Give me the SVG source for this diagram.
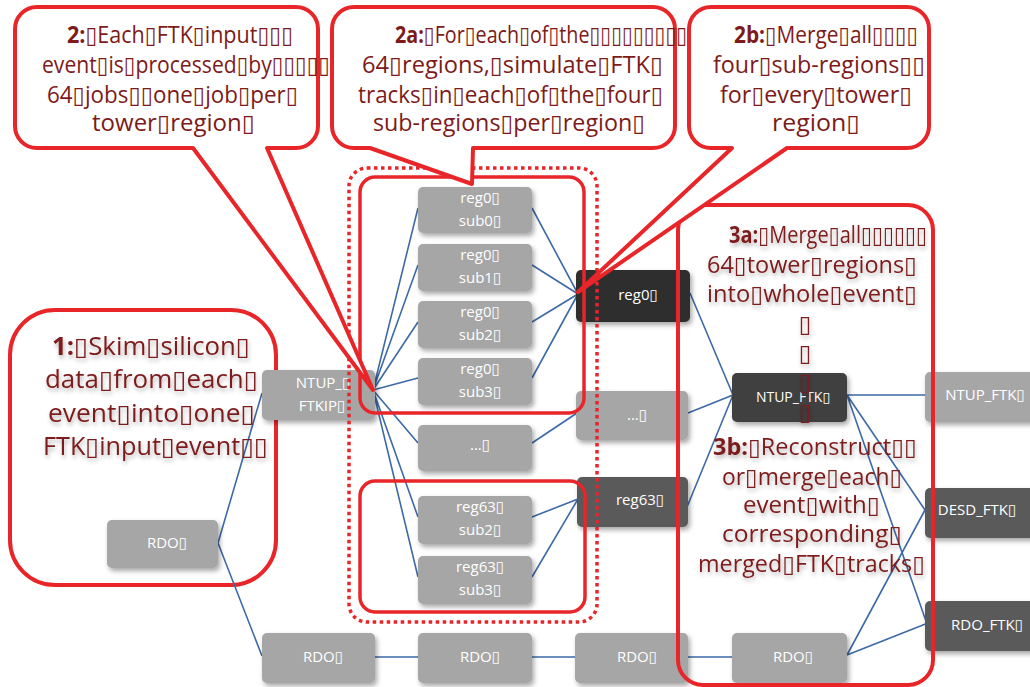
<svg xmlns="http://www.w3.org/2000/svg" width="1030" height="687" viewBox="0 0 1030 687">
<defs>
<filter id="sh" x="-20%" y="-20%" width="140%" height="150%"><feDropShadow dx="2" dy="3" stdDeviation="2.5" flood-color="#000" flood-opacity="0.35"/></filter>
<filter id="tsh" x="-10%" y="-30%" width="120%" height="170%"><feDropShadow dx="1" dy="3" stdDeviation="2" flood-color="#000" flood-opacity="0.3"/></filter>
<style>
.bub{fill:#fff;stroke:#e8262a;stroke-width:4;stroke-linejoin:round}
.frame{fill:none;stroke:#e8262a;stroke-width:3.5}
.dot{fill:none;stroke:#e8262a;stroke-width:3.5;stroke-dasharray:3.5 3.5}
.c{fill:none;stroke:#3d6aa6;stroke-width:1.6}
.t{font-family:"Open Sans","DejaVu Sans",sans-serif;fill:#7d1a1a;font-size:23px}
.tb{font-size:25px}
.b{font-weight:bold}
.n rect{filter:url(#sh)}
.n text{font-family:"Open Sans","DejaVu Sans",sans-serif;fill:#fff;font-size:15px;text-anchor:middle}
.g{fill:#a6a6a6}
.dk{fill:#2e2e2e}
.md{fill:#5a5a5a}
.mk{fill:#404040}
</style>
</defs>
<rect width="1030" height="687" fill="#fff"/>

<!-- step 1 frame -->
<rect class="bub" x="10" y="310" width="266" height="275" rx="45"/>

<g id="connectors">
<path class="c" d="M373,390 L418,208 M373,390 L418,265 M373,390 L418,322 M373,390 L418,378 M373,390 L418,443 M373,390 L418,517 M373,390 L418,577"/>
<path class="c" d="M532,208 L578,294 M532,265 L578,294 M532,322 L578,294 M532,378 L578,294"/>
<path class="c" d="M532,443 L577,413 M532,517 L578,499 M532,577 L578,499"/>
<path class="c" d="M262,393 L218,543 L262,656"/>
<path class="c" d="M375,657 H418 M532,657 H575 M688,657 H732"/>
<path class="c" d="M690,293 L733,395 M688,413 L733,395 M687,507 L733,395"/>
<path class="c" d="M847,395 H925 M847,395 L925,510 M847,395 L927,624 M847,655 L925,510 M847,655 L928,623"/>
</g>

<g id="rdo-a" class="n"><rect class="g" x="107" y="520" width="111" height="48" rx="5"/><text x="167" y="548">RDO▯</text></g>
<g id="ntup-ftkip" class="n"><rect class="g" x="262" y="370" width="113" height="50" rx="5"/><text x="323" y="388">NTUP_▯</text><text x="322" y="411">FTKIP▯</text></g>
<g id="reg0-sub0" class="n"><rect class="g" x="418" y="187" width="114" height="46" rx="5"/><text x="480" y="203">reg0▯</text><text x="480" y="226">sub0▯</text></g>
<g id="reg0-sub1" class="n"><rect class="g" x="418" y="244" width="114" height="47" rx="5"/><text x="480" y="260">reg0▯</text><text x="480" y="283">sub1▯</text></g>
<g id="reg0-sub2" class="n"><rect class="g" x="418" y="301" width="114" height="47" rx="5"/><text x="480" y="317">reg0▯</text><text x="480" y="340">sub2▯</text></g>
<g id="reg0-sub3" class="n"><rect class="g" x="418" y="358" width="114" height="47" rx="5"/><text x="480" y="374">reg0▯</text><text x="480" y="397">sub3▯</text></g>
<g id="sub-dots" class="n"><rect class="g" x="418" y="425" width="114" height="46" rx="5"/><text x="480" y="450">...▯</text></g>
<g id="reg63-sub2" class="n"><rect class="g" x="418" y="496" width="114" height="48" rx="5"/><text x="480" y="512">reg63▯</text><text x="480" y="535">sub2▯</text></g>
<g id="reg63-sub3" class="n"><rect class="g" x="418" y="556" width="114" height="48" rx="5"/><text x="480" y="572">reg63▯</text><text x="480" y="595">sub3▯</text></g>
<g id="reg0" class="n"><rect class="dk" x="576" y="270" width="114" height="52" rx="5"/><text x="638" y="300">reg0▯</text></g>
<g id="reg-dots" class="n"><rect class="g" x="576" y="391" width="112" height="49" rx="5"/><text x="637" y="420">...▯</text></g>
<g id="reg63" class="n"><rect class="md" x="577" y="477" width="111" height="50" rx="5"/><text x="640" y="505">reg63▯</text></g>
<g id="rdo-b" class="n"><rect class="g" x="262" y="633" width="113" height="50" rx="5"/><text x="323" y="662">RDO▯</text></g>
<g id="rdo-c" class="n"><rect class="g" x="418" y="633" width="114" height="50" rx="5"/><text x="480" y="662">RDO▯</text></g>
<g id="rdo-d" class="n"><rect class="g" x="575" y="633" width="113" height="50" rx="5"/><text x="637" y="662">RDO▯</text></g>
<g id="ntup-ftk" class="n"><rect class="mk" x="732" y="373" width="115" height="49" rx="5"/><text x="793" y="402" style="font-size:14px">NTUP_FTK▯</text></g>
<g id="rdo-e" class="n"><rect class="g" x="732" y="633" width="115" height="50" rx="5"/><text x="793" y="662">RDO▯</text></g>
<g id="ntup-ftk-out" class="n"><rect class="g" x="925" y="372" width="115" height="50" rx="5"/><text x="985" y="400">NTUP_FTK▯</text></g>
<g id="desd-ftk" class="n"><rect class="md" x="925" y="488" width="115" height="50" rx="5"/><text x="977" y="515">DESD_FTK▯</text></g>
<g id="rdo-ftk" class="n"><rect class="md" x="925" y="601" width="115" height="50" rx="5"/><text x="987" y="630">RDO_FTK▯</text></g>

<!-- frames -->
<rect class="dot" x="349" y="168" width="248" height="454" rx="18"/>
<rect class="frame" x="360" y="177" width="224" height="236" rx="15"/>
<rect class="frame" x="360" y="481" width="225" height="131" rx="15"/>
<rect class="bub" style="fill:none" x="678" y="205" width="255" height="480" rx="25"/>

<!-- callouts -->
<g id="callout-2">
<path class="bub" d="M37,7 H296 A22,22 0 0 1 318,29 V126 A22,22 0 0 1 296,148 H267 L373,390 L193,148 H37 A22,22 0 0 1 15,126 V29 A22,22 0 0 1 37,7 Z"/>
<text class="t" x="67" y="43" textLength="226" lengthAdjust="spacingAndGlyphs"><tspan class="b">2:</tspan>▯Each▯FTK▯input▯▯▯</text>
<text class="t" x="42" y="73" textLength="288" lengthAdjust="spacingAndGlyphs">event▯is▯processed▯by▯▯▯▯▯</text>
<text class="t" x="47" y="103" textLength="251" lengthAdjust="spacingAndGlyphs">64▯jobs▯▯one▯job▯per▯</text>
<text class="t" x="92" y="131" textLength="163" lengthAdjust="spacingAndGlyphs">tower▯region▯</text>
</g>
<g id="callout-2a">
<path class="bub" d="M354,7 H653 A22,22 0 0 1 675,29 V126 A22,22 0 0 1 653,148 H473 L472,184 L370,148 H354 A22,22 0 0 1 332,126 V29 A22,22 0 0 1 354,7 Z"/>
<text class="t" x="395" y="43" textLength="303" lengthAdjust="spacingAndGlyphs"><tspan class="b">2a:</tspan>▯For▯each▯of▯the▯▯▯▯▯▯▯▯▯▯</text>
<text class="t" x="362" y="73" textLength="301" lengthAdjust="spacingAndGlyphs">64▯regions,▯simulate▯FTK▯</text>
<text class="t" x="358" y="103" textLength="305" lengthAdjust="spacingAndGlyphs">tracks▯in▯each▯of▯the▯four▯</text>
<text class="t" x="373" y="131" textLength="272" lengthAdjust="spacingAndGlyphs">sub-regions▯per▯region▯</text>
</g>
<g id="callout-2b">
<path class="bub" d="M711,7 H907 A22,22 0 0 1 929,29 V126 A22,22 0 0 1 907,148 H787 L578,292 L732,148 H711 A22,22 0 0 1 689,126 V29 A22,22 0 0 1 711,7 Z"/>
<text class="t" x="734" y="43" textLength="184" lengthAdjust="spacingAndGlyphs"><tspan class="b">2b:</tspan>▯Merge▯all▯▯▯▯</text>
<text class="t" x="713" y="73" textLength="212" lengthAdjust="spacingAndGlyphs">four▯sub-regions▯▯</text>
<text class="t" x="720" y="103" textLength="192" lengthAdjust="spacingAndGlyphs">for▯every▯tower▯</text>
<text class="t" x="772" y="131" textLength="88" lengthAdjust="spacingAndGlyphs">region▯</text>
</g>
<g id="label-1" filter="url(#tsh)">
<text class="t tb" x="52" y="355" textLength="198" lengthAdjust="spacingAndGlyphs"><tspan class="b">1:</tspan>▯Skim▯silicon▯</text>
<text class="t tb" x="45" y="388" textLength="213" lengthAdjust="spacingAndGlyphs">data▯from▯each▯</text>
<text class="t tb" x="48" y="422" textLength="207" lengthAdjust="spacingAndGlyphs">event▯into▯one▯</text>
<text class="t tb" x="43" y="455" textLength="225" lengthAdjust="spacingAndGlyphs">FTK▯input▯event▯▯</text>
</g>
<g id="label-3" filter="url(#tsh)">
<text class="t" x="729" y="243" textLength="198" lengthAdjust="spacingAndGlyphs"><tspan class="b">3a:</tspan>▯Merge▯all▯▯▯▯▯▯</text>
<text class="t" x="707" y="273" textLength="210" lengthAdjust="spacingAndGlyphs">64▯tower▯regions▯</text>
<text class="t" x="707" y="302" textLength="210" lengthAdjust="spacingAndGlyphs">into▯whole▯event▯</text>
<text class="t" x="805" y="332" text-anchor="middle">▯</text>
<text class="t" x="805" y="361" text-anchor="middle">▯</text>
<text class="t" x="805" y="390" text-anchor="middle">▯</text>
<text class="t" x="805" y="420" text-anchor="middle">▯</text>
<text class="t" x="713" y="455" textLength="204" lengthAdjust="spacingAndGlyphs"><tspan class="b">3b:</tspan>▯Reconstruct▯▯</text>
<text class="t" x="722" y="485" textLength="180" lengthAdjust="spacingAndGlyphs">or▯merge▯each▯</text>
<text class="t" x="743" y="513" textLength="137" lengthAdjust="spacingAndGlyphs">event▯with▯</text>
<text class="t" x="722" y="542" textLength="180" lengthAdjust="spacingAndGlyphs">corresponding▯</text>
<text class="t" x="698" y="572" textLength="227" lengthAdjust="spacingAndGlyphs">merged▯FTK▯tracks▯</text>
</g>
</svg>
